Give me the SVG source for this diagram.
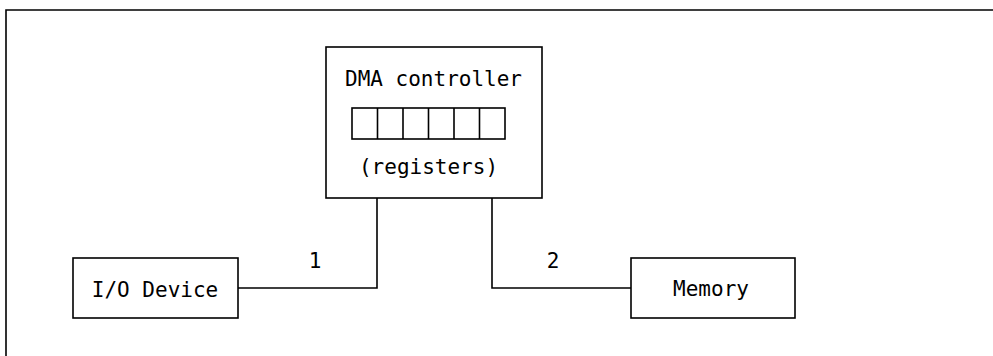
<svg xmlns="http://www.w3.org/2000/svg" width="993" height="356" viewBox="0 0 993 356">
<style>
.box{fill:none;stroke:#000;stroke-width:1.6}
.ln{fill:none;stroke:#000;stroke-width:1.6}
.t{font-family:"DejaVu Sans Mono","Liberation Mono",monospace;font-size:21px;fill:#000;text-anchor:middle}
</style>
<rect width="993" height="356" fill="#fff"/>
<g id="frame"><path class="ln" d="M6,360 V10 H1000"/></g>
<g id="dma">
<rect class="box" x="326" y="47" width="216" height="151"/>
<text class="t" x="433.5" y="86">DMA controller</text>
<rect class="box" x="352" y="108" width="153" height="31"/>
<path class="ln" d="M377.5,108V139M403,108V139M428.5,108V139M454,108V139M479.5,108V139"/>
<text class="t" x="428.5" y="174">(registers)</text>
</g>
<g id="io">
<rect class="box" x="73" y="258" width="165" height="60"/>
<text class="t" x="155" y="297">I/O Device</text>
</g>
<g id="memory">
<rect class="box" x="631" y="258" width="164" height="60"/>
<text class="t" x="711" y="296">Memory</text>
</g>
<g id="connectors">
<path class="ln" d="M377,198V288H238"/>
<path class="ln" d="M492,198V288H631"/>
<text class="t" x="315" y="268">1</text>
<text class="t" x="553" y="268">2</text>
</g>
</svg>
